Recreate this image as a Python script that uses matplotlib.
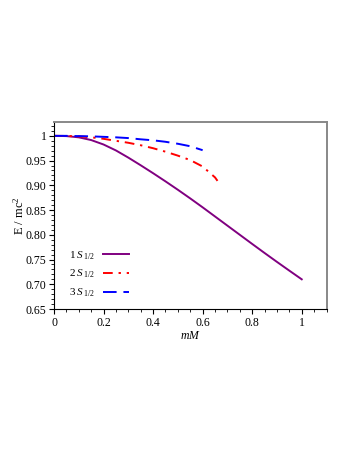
import matplotlib
matplotlib.use("Agg")
import matplotlib.pyplot as plt
from matplotlib.ticker import MultipleLocator

plt.rcParams['font.family'] = ['Liberation Serif', 'DejaVu Serif']
plt.rcParams['mathtext.fontset'] = 'custom'
plt.rcParams['mathtext.rm'] = 'Liberation Serif'
plt.rcParams['mathtext.it'] = 'Liberation Serif:italic'

x1 = [0, 0.05, 0.1, 0.15, 0.2, 0.25, 0.3, 0.35, 0.4, 0.45, 0.5, 0.55, 0.6,
      0.65, 0.7, 0.75, 0.8, 0.85, 0.9, 0.95, 1.0]
y1 = [1.0, 0.9995, 0.997, 0.9915, 0.9825, 0.9705, 0.956, 0.9405, 0.9245, 0.908,
      0.891, 0.8735, 0.8555, 0.837, 0.8185, 0.800, 0.7815, 0.7632, 0.7452, 0.7275, 0.710]

x2 = [0, 0.05, 0.1, 0.15, 0.2, 0.25, 0.3, 0.35, 0.4, 0.45, 0.5, 0.55, 0.6, 0.65, 0.66]
y2 = [1.0, 0.9998, 0.999, 0.997, 0.994, 0.990, 0.986, 0.981, 0.975, 0.968,
      0.960, 0.951, 0.938, 0.916, 0.909]

x3 = [0, 0.05, 0.1, 0.15, 0.2, 0.25, 0.3, 0.35, 0.4, 0.45, 0.5, 0.55, 0.6]
y3 = [1.0, 1.0, 0.9995, 0.999, 0.998, 0.997, 0.9955, 0.993, 0.991, 0.988,
      0.984, 0.979, 0.971]

labels = [r'1$\;S_{\,\mathrm{1/2}}$', r'2$\;S_{\,\mathrm{1/2}}$', r'3$\;S_{\,\mathrm{1/2}}$']
xticks = [0, 0.2, 0.4, 0.6, 0.8, 1.0]
xticklabels = ['0', '0.2', '0.4', '0.6', '0.8', '1']
yticks = [0.65, 0.70, 0.75, 0.80, 0.85, 0.90, 0.95, 1.0]
yticklabels = ['0.65', '0.70', '0.75', '0.80', '0.85', '0.90', '0.95', '1']

fig = plt.figure(figsize=(3.53, 4.57), dpi=100)
ax = fig.add_axes([54/353, 1-309/457, (327-54)/353, (309-122)/457])

ax.plot(x1, y1, color='#800080', lw=1.4, label=labels[0])
ax.plot(x2, y2, color='#ff0000', lw=1.4, dashes=(5, 3, 1.2, 3), label=labels[1])
ax.plot(x3, y3, color='#0000ff', lw=1.4, dashes=(7, 3.5), label=labels[2])

ax.set_xlim(0, 1.102)
ax.set_ylim(0.65, 1.028)
ax.set_xticks(xticks)
ax.set_xticklabels(xticklabels)
ax.set_yticks(yticks)
ax.set_yticklabels(yticklabels)
ax.xaxis.set_minor_locator(MultipleLocator(0.05))
ax.yaxis.set_minor_locator(MultipleLocator(0.01))
ax.tick_params(axis='both', which='major', direction='out', length=3.5, width=0.8,
               labelsize=8.5, pad=2)
ax.tick_params(axis='both', which='minor', direction='out', length=2, width=0.6)

for s in ['top', 'right']:
    ax.spines[s].set_color('#888888')
    ax.spines[s].set_linewidth(1.4)
for s in ['left', 'bottom']:
    ax.spines[s].set_color('black')
    ax.spines[s].set_linewidth(0.8)

ax.set_xlabel(r'$mM$', fontsize=8.5, labelpad=1)
ax.set_ylabel(r'E / mc$^2$', fontsize=9, labelpad=-1)

leg = ax.legend(loc='lower left', bbox_to_anchor=(0.02, 0.0), frameon=False,
                markerfirst=False, fontsize=8, handlelength=2.3, handletextpad=0.7,
                labelspacing=0.55)

fig.savefig('out.png', dpi=100)
